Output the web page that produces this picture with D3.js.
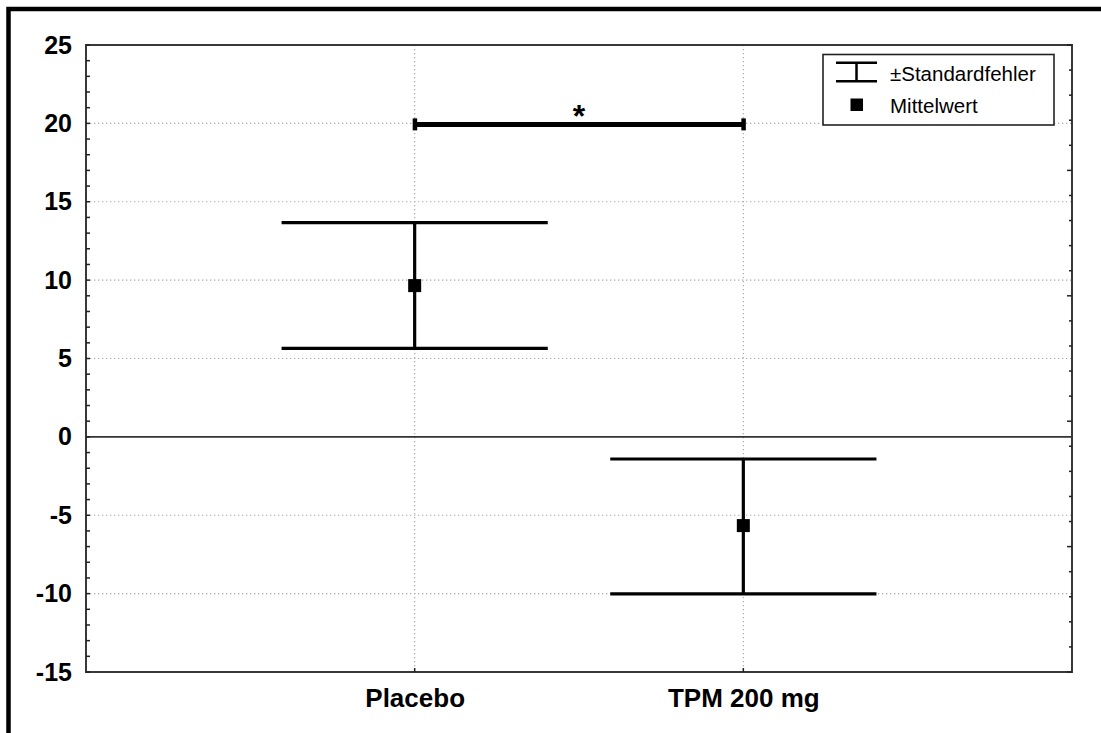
<!DOCTYPE html>
<html><head><meta charset="utf-8">
<script src="https://cdn.jsdelivr.net/npm/d3@7"></script>
<style>body{margin:0;background:#fff} svg{display:block}</style>
</head><body><svg id="c" width="1101" height="733"></svg>
<script>
// ---- data ----
const categories = ["Placebo", "TPM 200 mg"];
const means = [9.65, -5.66];
const upper = [13.67, -1.41];
const lower = [5.65, -10.02];
const yTicks = [25, 20, 15, 10, 5, 0, -5, -10, -15];
const yGrid = [20, 15, 10, 5, -5, -10];
const sigFrom = "Placebo", sigTo = "TPM 200 mg";
const sigLevel = 20;
const sigLabel = "*";
const legendLabels = ["±Standardfehler", "Mittelwert"];

// ---- layout ----
const L = 86, R = 1072, T = 45, B = 672;
const FONT = "'Liberation Sans', Arial, sans-serif";
const svg = d3.select("#c");

const x = d3.scalePoint().domain(categories).range([L, R]).padding(1);
const y = d3.scaleLinear().domain([-15, 25]).range([B, T]);
const yr = d3.scaleLinear().domain([0, 25]).range([B, T]); // right-side tick scale

// outer frame
svg.append("path").attr("d", `M8.5,733 L8.5,9 L1101,9`)
  .attr("fill", "none").attr("stroke", "#000").attr("stroke-width", 4.5);

// grid lines
const grid = svg.append("g").attr("stroke", "#aaa").attr("stroke-width", 1.2)
  .attr("stroke-dasharray", "1.3,2.7");
grid.selectAll(".h").data(yGrid).join("line")
  .attr("x1", L).attr("x2", R).attr("y1", d => y(d)).attr("y2", d => y(d));
grid.selectAll(".v").data(categories).join("line")
  .attr("x1", d => x(d)).attr("x2", d => x(d)).attr("y1", T).attr("y2", B);

// zero line
svg.append("line").attr("x1", L).attr("x2", R).attr("y1", y(0)).attr("y2", y(0))
  .attr("stroke", "#333").attr("stroke-width", 1.6);

// plot frame
svg.append("rect").attr("x", L).attr("y", T).attr("width", R - L).attr("height", B - T)
  .attr("fill", "none").attr("stroke", "#383838").attr("stroke-width", 2);

// left minor ticks
svg.append("g").selectAll("line").data(d3.range(-15, 26, 1)).join("line")
  .attr("x1", L).attr("x2", L + 4).attr("y1", d => y(d)).attr("y2", d => y(d))
  .attr("stroke", "#222").attr("stroke-width", 1.5);

// right ticks
svg.append("g").selectAll("line").data(d3.range(0, 26, 1)).join("line")
  .attr("x1", R).attr("x2", d => R - (d % 5 === 0 ? 5 : 3))
  .attr("y1", d => yr(d)).attr("y2", d => yr(d))
  .attr("stroke", "#222").attr("stroke-width", 1.5);

// bottom ticks
svg.append("g").selectAll("line").data(categories).join("line")
  .attr("x1", d => x(d)).attr("x2", d => x(d)).attr("y1", B).attr("y2", B - 4)
  .attr("stroke", "#222").attr("stroke-width", 1.5);

// y axis labels
const yAxis = d3.axisLeft(y).tickValues(yTicks).tickSize(0).tickPadding(14).tickFormat(d => String(d));
const gy = svg.append("g").attr("transform", `translate(${L},0)`).call(yAxis);
gy.select(".domain").remove();
gy.selectAll("text").attr("font-family", FONT).attr("font-size", 25).attr("font-weight", "bold")
  .attr("fill", "#000");

// x axis labels
const xAxis = d3.axisBottom(x).tickSize(0).tickPadding(17);
const gx = svg.append("g").attr("transform", `translate(0,${B})`).call(xAxis);
gx.select(".domain").remove();
gx.selectAll("text").attr("font-family", FONT).attr("font-size", 26).attr("font-weight", "bold")
  .attr("fill", "#000");

// error bars
const capHalf = x.step() * 0.405;
const eb = svg.append("g").attr("stroke", "#000").attr("stroke-width", 3.2);
categories.forEach((c, i) => {
  eb.append("line").attr("x1", x(c)).attr("x2", x(c)).attr("y1", y(upper[i])).attr("y2", y(lower[i]));
  eb.append("line").attr("x1", x(c) - capHalf).attr("x2", x(c) + capHalf).attr("y1", y(upper[i])).attr("y2", y(upper[i]));
  eb.append("line").attr("x1", x(c) - capHalf).attr("x2", x(c) + capHalf).attr("y1", y(lower[i])).attr("y2", y(lower[i]));
});
svg.append("g").selectAll("rect").data(categories).join("rect")
  .attr("x", d => x(d) - 6.5).attr("y", (d, i) => y(means[i]) - 6.5)
  .attr("width", 13).attr("height", 13).attr("fill", "#000");

// significance bar
const sy = y(sigLevel) + 1;
svg.append("line").attr("x1", x(sigFrom)).attr("x2", x(sigTo)).attr("y1", sy).attr("y2", sy)
  .attr("stroke", "#000").attr("stroke-width", 5);
svg.append("g").selectAll("rect").data([sigFrom, sigTo]).join("rect")
  .attr("x", d => x(d) - 2).attr("y", sy - 6).attr("width", 4.5).attr("height", 12).attr("fill", "#000");
svg.append("text").attr("x", (x(sigFrom) + x(sigTo)) / 2).attr("y", 127)
  .attr("text-anchor", "middle").attr("font-family", FONT).attr("font-weight", "bold")
  .attr("font-size", 32).text(sigLabel);

// legend
const lg = svg.append("g");
lg.append("rect").attr("x", 823).attr("y", 54.5).attr("width", 231).attr("height", 70.5)
  .attr("fill", "#fff").attr("stroke", "#222").attr("stroke-width", 1.6);
const li = lg.append("g").attr("stroke", "#000").attr("stroke-width", 2.5);
li.append("line").attr("x1", 836).attr("x2", 877).attr("y1", 62.7).attr("y2", 62.7);
li.append("line").attr("x1", 836).attr("x2", 877).attr("y1", 81.3).attr("y2", 81.3);
li.append("line").attr("x1", 856.5).attr("x2", 856.5).attr("y1", 62.7).attr("y2", 81.3);
lg.append("rect").attr("x", 850.5).attr("y", 98.5).attr("width", 12.5).attr("height", 12.5).attr("fill", "#000");
lg.selectAll("text").data(legendLabels).join("text")
  .attr("x", 890).attr("y", (d, i) => i === 0 ? 80.7 : 113.3)
  .attr("font-family", FONT).attr("font-size", 20.5).attr("fill", "#000").text(d => d);
</script>
</body></html>
